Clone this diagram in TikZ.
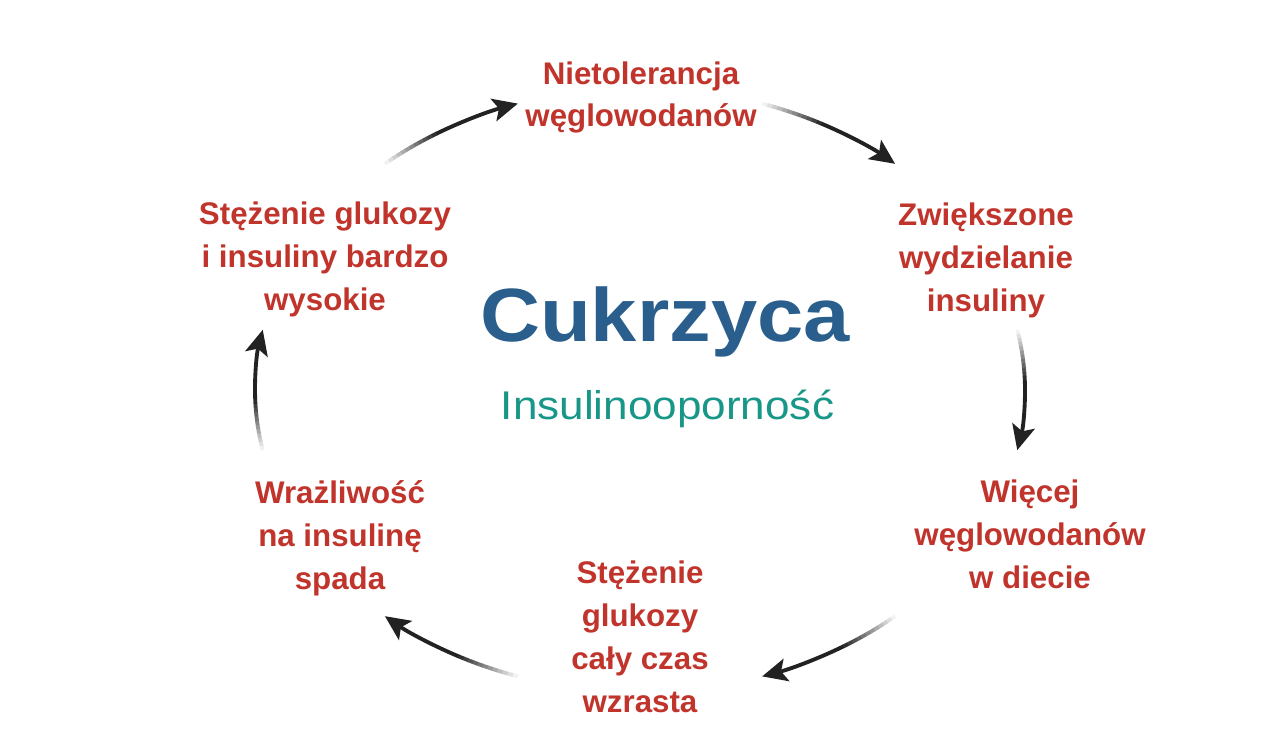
\documentclass[tikz,border=0pt]{standalone}
\usepackage{fontspec}
\setmainfont{Liberation Sans}
\newfontfamily\widefont[FakeStretch=1.1]{Liberation Sans}
\usetikzlibrary{arrows.meta}
\definecolor{stepred}{RGB}{192,52,44}
\definecolor{titleblue}{RGB}{42,94,140}
\definecolor{subteal}{RGB}{24,150,135}
\definecolor{arrowgrey}{RGB}{34,34,34}
\tikzset{
    stage/.style={text=stepred, align=center,
        font=\fontsize{17.8}{24.4}\selectfont\bfseries},
    cycle line/.style={line width=2.2pt, draw=arrowgrey},
}

\begin{document}
\begin{tikzpicture}
\useasboundingbox (0,0) rectangle (25.6,14.9);

%title in the middle
\node[anchor=base, text=titleblue, font=\widefont\fontsize{43}{50}\selectfont\bfseries] (cukrzyca) at (13.3,8.06) {Cukrzyca};
\node[anchor=base, text=subteal, font=\widefont\fontsize{22.8}{26}\selectfont] (insulin) at (13.35,6.5) {Insulinooporność};

%the six stages
\node[stage] (nietol) at (12.82,12.95) {Nietolerancja\\węglowodanów};
\node[stage] (zwiek) at (19.72,9.69) {Zwiększone\\wydzielanie\\insuliny};
\node[stage] (wiecej) at (20.6,4.21) {Więcej\\węglowodanów\\w diecie};
\node[stage] (wzrasta) at (12.8,2.16) {Stężenie\\glukozy\\cały czas\\wzrasta};
\node[stage] (spada) at (6.8,4.13) {Wrażliwość\\na insulinę\\spada};
\node[stage] (wysokie) at (6.5,9.71) {Stężenie glukozy\\i insuliny bardzo\\wysokie};

%arrows round the ellipse, fading in from the tail
\foreach \c [count=\i] in {120,60,0,-60,-120,180} {
    \pgfmathsetmacro{\ts}{\c+11.5}
    \pgfmathsetmacro{\te}{\c-11.5}
    \pgfmathsetmacro{\tm}{\ts-9.6}
    \coordinate (tail\i) at ({12.8+7.7*cos(\ts)},{7.1+6.04*sin(\ts)});
    \coordinate (mid\i) at ({12.8+7.7*cos(\tm)},{7.1+6.04*sin(\tm)});
    \foreach \k in {0,...,11} {
        \pgfmathsetmacro{\a}{\ts-\k*0.8}
        \pgfmathsetmacro{\b}{\a-0.85}
        \pgfmathtruncatemacro{\p}{6+\k*8}
        \draw[cycle line, draw=arrowgrey!\p!white] ({12.8+7.7*cos(\a)},{7.1+6.04*sin(\a)})
            arc[start angle=\a, end angle=\b, x radius=7.7, y radius=6.04];
    }
    \draw[cycle line, -{Stealth[length=5mm, width=4.6mm, inset=1.1mm]}] (mid\i)
        arc[start angle=\tm, end angle=\te, x radius=7.7, y radius=6.04];
}
\end{tikzpicture}
\end{document}
